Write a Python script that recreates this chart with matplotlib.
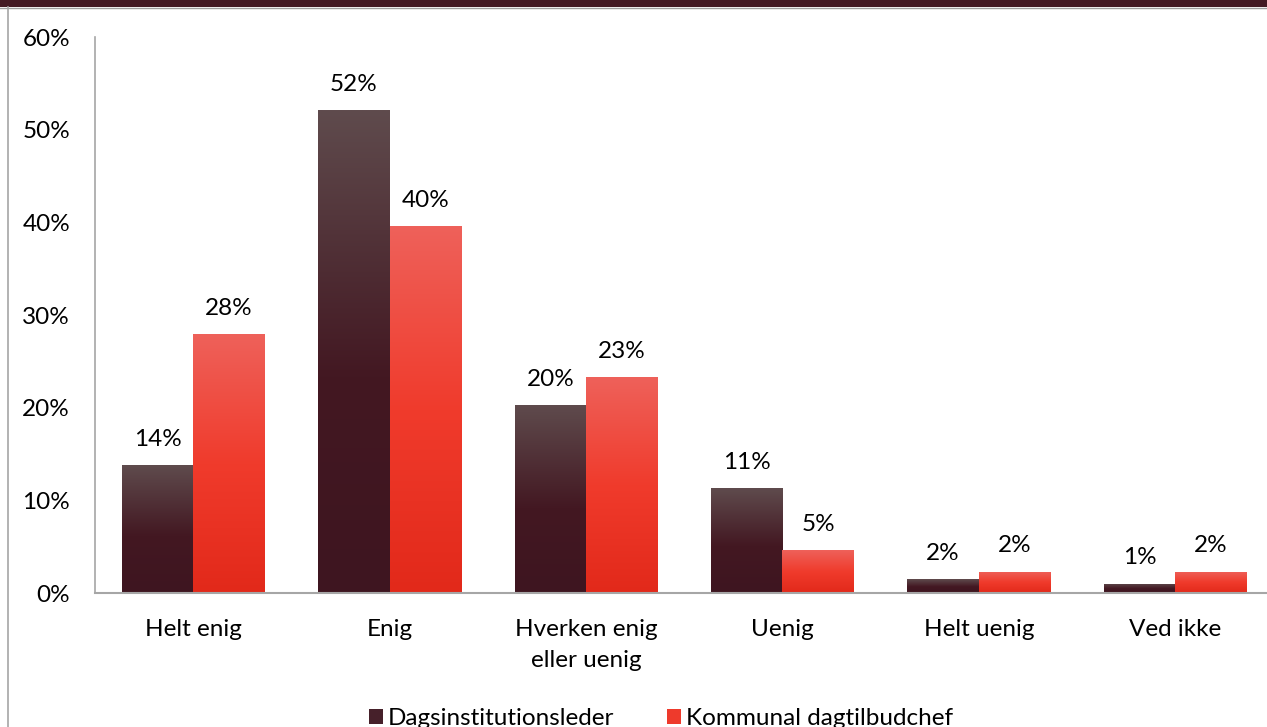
import matplotlib
matplotlib.use("Agg")
import matplotlib.pyplot as plt
import numpy as np
from matplotlib.colors import LinearSegmentedColormap
from matplotlib.patches import Patch, Rectangle
from matplotlib.lines import Line2D

categories = ["Helt enig", "Enig", "Hverken enig\neller uenig", "Uenig", "Helt uenig", "Ved ikke"]
series_names = ["Dagsinstitutionsleder", "Kommunal dagtilbudchef"]
dagsinst = [13.8, 52.1, 20.3, 11.3, 1.5, 1.0]
kommunal = [27.9, 39.6, 23.3, 4.6, 2.3, 2.3]
yticks = [0, 10, 20, 30, 40, 50, 60]

plt.rcParams['font.family'] = ['Lato', 'DejaVu Sans']

W, H = 1267, 727
fig = plt.figure(figsize=(W / 100, H / 100), dpi=100)

# frame decorations
fig.patches.append(Rectangle((0, 1 - 7 / H), 1, 7 / H, transform=fig.transFigure,
                             facecolor='#441a24', edgecolor='none'))
fig.lines.append(Line2D([0, 1], [1 - 7.5 / H, 1 - 7.5 / H], transform=fig.transFigure,
                        color='#a0a0a0', lw=1))
fig.lines.append(Line2D([7.5 / W, 7.5 / W], [0, 1 - 7 / H], transform=fig.transFigure,
                        color='#a6a6a6', lw=1.2))

ax_left = 95 / W
ax_bottom = (H - 593) / H
ax_top = (H - 37) / H
group_px = 196.4
ax_width = 6 * group_px / W
ax = fig.add_axes([ax_left, ax_bottom, ax_width, ax_top - ax_bottom])

cmap_dark = LinearSegmentedColormap.from_list('dark', [(0, '#3e1520'), (0.45, '#431822'), (1, '#5f4b4d')])
cmap_red = LinearSegmentedColormap.from_list('red', [(0, '#e2291a'), (0.5, '#f03b2c'), (1, '#ee615a')])

x = np.arange(len(categories))
bw = 71.5 / group_px
grad = np.linspace(0, 1, 256).reshape(-1, 1)

def gradient_bars(xs, vals, cmap, label):
    bars = ax.bar(xs, vals, width=bw, color='none', edgecolor='none', label=label, zorder=2)
    for b in bars:
        x0, w, h = b.get_x(), b.get_width(), b.get_height()
        im = ax.imshow(grad, extent=[x0, x0 + w, 0, h], origin='lower', cmap=cmap,
                       aspect='auto', zorder=2, interpolation='bilinear')
        im.set_clip_path(b)
    for xi, v in zip(xs, vals):
        ax.annotate(f"{v:.0f}%", (xi, v), xytext=(0, 11), textcoords='offset points',
                    ha='center', va='bottom', fontsize=17.5, color='#000000')
    return bars

gradient_bars(x - bw / 2, dagsinst, cmap_dark, series_names[0])
gradient_bars(x + bw / 2, kommunal, cmap_red, series_names[1])

ax.set_xlim(-0.5, len(categories) - 0.5)
ax.set_ylim(0, 60)
ax.set_yticks(yticks)
ax.set_yticklabels([f"{t}%" for t in yticks], fontsize=17.5)
ax.set_xticks(x)
ax.set_xticklabels(categories, fontsize=17.5, linespacing=1.55)
ax.tick_params(axis='y', length=0, pad=18)
ax.tick_params(axis='x', length=0, pad=19)
for s in ['top', 'right']:
    ax.spines[s].set_visible(False)
ax.spines['left'].set_color('#a6a6a6')
ax.spines['bottom'].set_color('#a6a6a6')
ax.spines['left'].set_linewidth(1.2)
ax.spines['bottom'].set_linewidth(1.5)

handles = [Patch(facecolor='#46202a', edgecolor='none'),
           Patch(facecolor='#ee3a2c', edgecolor='none')]
fig.legend(handles, series_names, loc='lower center', bbox_to_anchor=(661 / W, -0.033),
           ncol=2, frameon=False, fontsize=17.5, handlelength=0.55, handleheight=0.6,
           handletextpad=0.2, columnspacing=2.2)

fig.savefig('out.png', dpi=100)
